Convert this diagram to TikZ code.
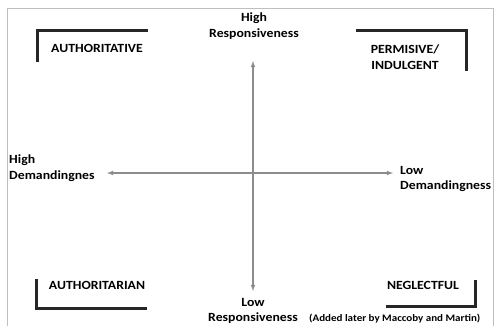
\documentclass[tikz,border=0pt]{standalone}
\usepackage{fontspec}
\setmainfont{Carlito}[FakeStretch=1.1]
\usetikzlibrary{arrows}
\begin{document}
\begin{tikzpicture}[x=1pt,y=-1pt,
  lbl/.style={font=\bfseries\fontsize{12.5}{15.5}\selectfont,align=center,inner sep=0pt},
  brk/.style={line width=3pt,black!85},
  axis/.style={latex-latex,black!45,line width=1.1pt}]
              \clip(0,0)rectangle(496,326);
              \fill[white](0,0)rectangle(496,326);
              \draw[black!25,line width=1pt](7,330)--(7,8.5)--(493,8.5)--(493,330);
              % corner brackets
              \draw[brk](37,62)--(37,31)--(148,31);
              \draw[brk](356,31)--(466,31)--(466,71);
              \draw[brk](36,279)--(36,308)--(147,308);
              \draw[brk](386,306)--(475,306)--(475,280);
              \node[lbl](auth)at(97,48){AUTHORITATIVE};
              \node[lbl](perm)at(405,57){PERMISIVE/\\INDULGENT};
              \node[lbl](autr)at(97,285){AUTHORITARIAN};
              \node[lbl](negl)at(423,285){NEGLECTFUL};
              % axes
              \node[lbl](hr)at(254,26){High\\Responsiveness};
              \node[lbl](lr)at(253,311){Low\\Responsiveness};
              \node[lbl,align=left,anchor=west](hd)at(9,168){High\\Demandingnes};
              \node[lbl,align=left,anchor=west](ld)at(400,179){Low\\Demandingness};
              \coordinate(top)at(253,61);
              \coordinate(bot)at(253,291);
              \coordinate(lft)at(107,173);
              \coordinate(rgt)at(393,173);
              \draw[axis](top)--(bot);
              \draw[axis](lft)--(rgt);
              \node[lbl,anchor=west,font=\bfseries\fontsize{10}{12}\selectfont](note)at(309,319){(Added later by Maccoby and Martin)};
            \end{tikzpicture}
\end{document}
